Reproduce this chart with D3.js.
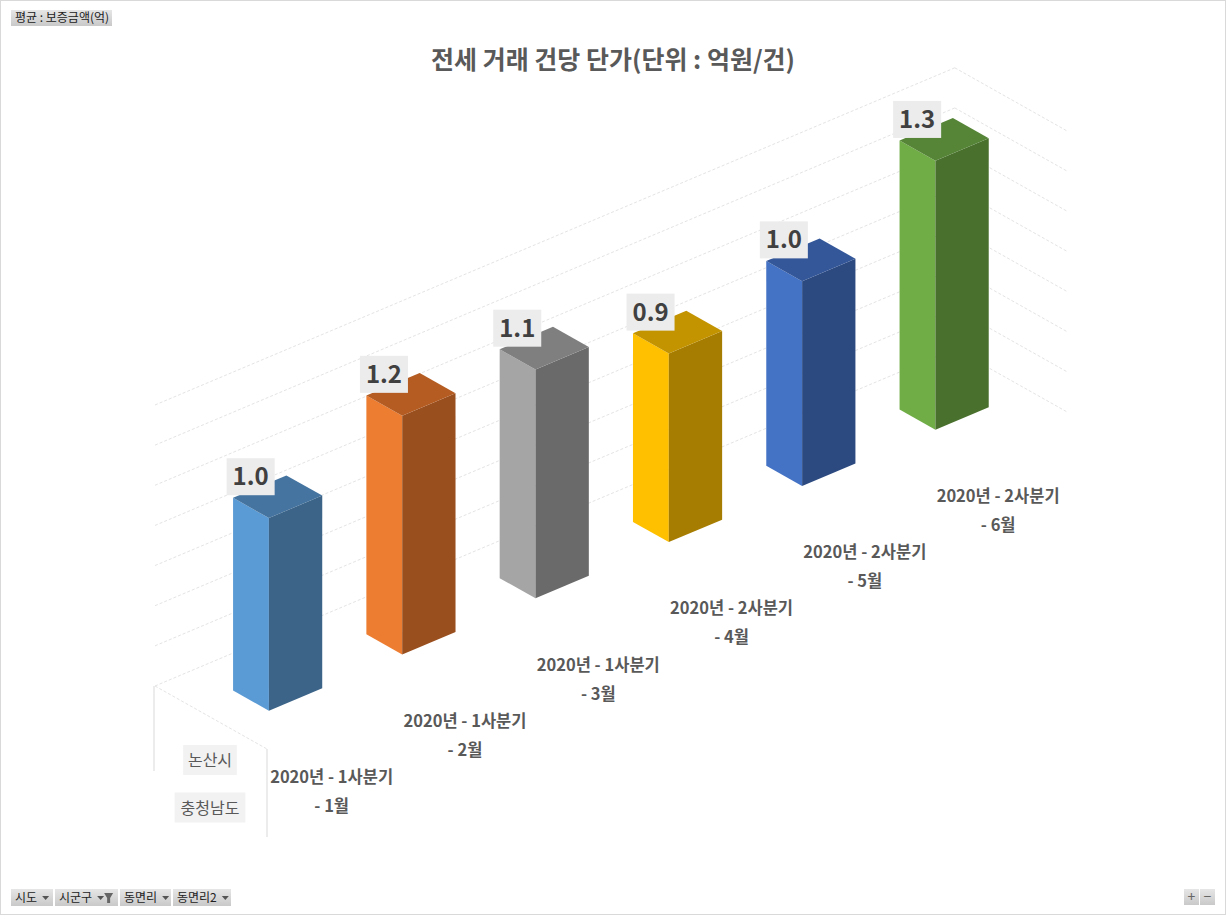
<!DOCTYPE html>
<html>
<head>
<meta charset="utf-8">
<script src="https://cdn.jsdelivr.net/npm/d3@7"></script>
<style>
  body { margin: 0; background: #fff; }
  svg { display: block; font-family: "Noto Sans CJK KR", "Noto Sans", sans-serif; }
</style>
</head>
<body>
<svg id="chart" width="1227" height="916"></svg>
<script>
// 전세 거래 건당 단가 - 3D column chart (pivot chart look)

// --- data ---
const quarterLabels = ["2020년 - 1사분기", "2020년 - 1사분기", "2020년 - 1사분기",
                       "2020년 - 2사분기", "2020년 - 2사분기", "2020년 - 2사분기"];
const monthLabels = ["- 1월", "- 2월", "- 3월", "- 4월", "- 5월", "- 6월"];
const values = [0.96, 1.19, 1.14, 0.94, 1.02, 1.34];
const outerLabels = ["논산시", "충청남도"];
const valueTicks = [0, 0.2, 0.4, 0.6, 0.8, 1.0, 1.2, 1.4];

// face colours: light side, dark front, top
const sideColors = ["#5b9bd5", "#ed7d31", "#a5a5a5", "#ffc000", "#4472c4", "#70ad47"];
const frontColors = ["#3b6488", "#9a4f1f", "#6a6a6a", "#a67d00", "#2c4a80", "#4a702e"];
const topColors = ["#4574a0", "#b45c22", "#7f7f7f", "#c39300", "#34579a", "#568538"];

const svg = d3.select("#chart");

// chart area border
svg.append("rect").attr("x", 0.5).attr("y", 0.5).attr("width", 1225).attr("height", 914)
  .attr("fill", "#fff").attr("stroke", "#d9d9d9");

// --- 3d projection ---
const n = values.length;
const x = d3.scaleBand().domain(d3.range(n)).range([0, n]).paddingInner(0.6).paddingOuter(0.3);
const y = d3.scaleLinear().domain([0, 1.4]).range([0, 281]);
const origin = {x: 155, y: 686};
const catVec = {x: 133.3, y: -56.2};   // one category step
const depVec = {x: 112, y: 63};        // full floor depth, back -> front
const proj = (c, d, v) => [origin.x + c * catVec.x + d * depVec.x,
                           origin.y + c * catVec.y + d * depVec.y - y(v)];
const line = pts => "M" + pts.map(p => p.join(",")).join("L");
const poly = pts => line(pts) + "Z";

// --- walls / gridlines ---
const grid = svg.append("g").attr("fill", "none").attr("stroke", "#e4e4e4")
  .attr("stroke-width", 1).attr("stroke-dasharray", "3,2");
valueTicks.forEach(t => {
  grid.append("path").attr("d", line([proj(0, 0, t), proj(n, 0, t)]));
  grid.append("path").attr("d", line([proj(n, 0, t), proj(n, 1, t)]));
});
grid.append("path").attr("d", line([proj(0, 0, 0), proj(0, 1, 0)]));

// --- bars ---
const d0 = 0.34, d1 = 0.66;
const bars = svg.append("g").selectAll("g").data(values).join("g");
bars.append("path")
  .attr("fill", (d, i) => sideColors[i])
  .attr("d", (d, i) => {
    const c0 = x(i);
    return poly([proj(c0, d1, 0), proj(c0, d1, d), proj(c0, d0, d), proj(c0, d0, 0)]);
  });
bars.append("path")
  .attr("fill", (d, i) => frontColors[i])
  .attr("d", (d, i) => {
    const c0 = x(i), c1 = x(i) + x.bandwidth();
    return poly([proj(c0, d1, 0), proj(c0, d1, d), proj(c1, d1, d), proj(c1, d1, 0)]);
  });
bars.append("path")
  .attr("fill", (d, i) => topColors[i])
  .attr("d", (d, i) => {
    const c0 = x(i), c1 = x(i) + x.bandwidth();
    return poly([proj(c0, d0, d), proj(c0, d1, d), proj(c1, d1, d), proj(c1, d0, d)]);
  });

// data labels
const labels = svg.append("g").selectAll("g").data(values).join("g")
  .attr("transform", (d, i) => {
    const p = proj(x(i) + x.bandwidth() / 2, 0.5, d);
    return `translate(${p[0] - 27},${p[1] - 20})`;
  });
labels.append("rect").attr("x", -24).attr("y", -18.5).attr("width", 48).attr("height", 37)
  .attr("fill", "#ececec");
labels.append("text").attr("text-anchor", "middle").attr("y", 8.5)
  .attr("font-size", 24).attr("font-weight", "bold").attr("fill", "#404040")
  .text(d => d.toFixed(1));

// --- category labels ---
const cats = svg.append("g").selectAll("g").data(d3.range(n)).join("g")
  .attr("transform", i => {
    const p = proj(x(i) + x.bandwidth() / 2, 1, 0);
    return `translate(${p[0] - 2},${p[1]})`;
  })
  .attr("text-anchor", "middle").attr("font-size", 16.5).attr("font-weight", "bold").attr("fill", "#595959");
cats.append("text").attr("y", 62).text(i => quarterLabels[i]);
cats.append("text").attr("y", 91).text(i => monthLabels[i]);

// outer level labels
const corner = proj(0, 1, 0);
const tableLines = svg.append("g").attr("stroke", "#d9d9d9");
tableLines.append("line").attr("x1", origin.x - 1).attr("x2", origin.x - 1)
  .attr("y1", origin.y).attr("y2", origin.y + 85);
tableLines.append("line").attr("x1", corner[0]).attr("x2", corner[0])
  .attr("y1", corner[1]).attr("y2", corner[1] + 88);
const outer = svg.append("g").selectAll("g").data(outerLabels).join("g")
  .attr("transform", (d, i) => `translate(${corner[0] - 57},${corner[1] + 11 + i * 47.5})`);
outer.append("rect")
  .attr("x", d => -d.length * 8.6 - 1).attr("y", -15)
  .attr("width", d => d.length * 17.2 + 2).attr("height", 30).attr("fill", "#f2f2f2");
outer.append("text").attr("text-anchor", "middle").attr("y", 6)
  .attr("font-size", 16).attr("fill", "#595959").text(d => d);

// --- title ---
svg.append("text").attr("x", 613).attr("y", 69).attr("text-anchor", "middle")
  .attr("font-size", 25).attr("font-weight", "bold").attr("fill", "#595959")
  .text("전세 거래 건당 단가(단위 : 억원/건)");

// --- pivot field buttons ---
const defs = svg.append("defs");
const grad = defs.append("linearGradient").attr("id", "btn").attr("x1", 0).attr("y1", 0).attr("x2", 0).attr("y2", 1);
grad.append("stop").attr("offset", 0).attr("stop-color", "#e6e6e6");
grad.append("stop").attr("offset", 1).attr("stop-color", "#c9c9c9");

const valueButton = ["평균 : 보증금액(억)"];
const fieldButtons = ["시도", "시군구", "동면리", "동면리2"];
const fieldWidths = [42, 63, 51, 58];

svg.append("rect").attr("x", 11).attr("y", 10).attr("width", 101).attr("height", 16).attr("fill", "url(#btn)");
svg.append("text").attr("x", 15).attr("y", 22).attr("font-size", 12).attr("fill", "#222").text(valueButton[0]);

let bx = 11;
fieldButtons.forEach((f, i) => {
  const g = svg.append("g").attr("transform", `translate(${bx},889)`);
  g.append("rect").attr("width", fieldWidths[i]).attr("height", 17).attr("fill", "url(#btn)");
  const t = g.append("text").attr("x", 4).attr("y", 13).attr("font-size", 12).attr("fill", "#222").text(f);
  const w = t.node().getComputedTextLength();
  const ax = 4 + w + 5;
  g.append("path").attr("d", `M${ax},7L${ax + 7},7L${ax + 3.5},11Z`).attr("fill", "#555");
  if (f === "시군구") {
    g.append("path").attr("d", `M${ax + 7},4L${ax + 16},4L${ax + 13},9L${ax + 13},14L${ax + 10},14L${ax + 10},9Z`)
      .attr("fill", "#666");
  }
  bx += fieldWidths[i] + 2;
});

["+", "−"].forEach((s, i) => {
  const g = svg.append("g").attr("transform", `translate(${1184 + i * 16},889)`);
  g.append("rect").attr("width", 15).attr("height", 16).attr("fill", "url(#btn)");
  g.append("text").attr("x", 7.5).attr("y", 13).attr("text-anchor", "middle")
    .attr("font-size", 14).attr("fill", "#666").text(s);
});
</script>
</body>
</html>
